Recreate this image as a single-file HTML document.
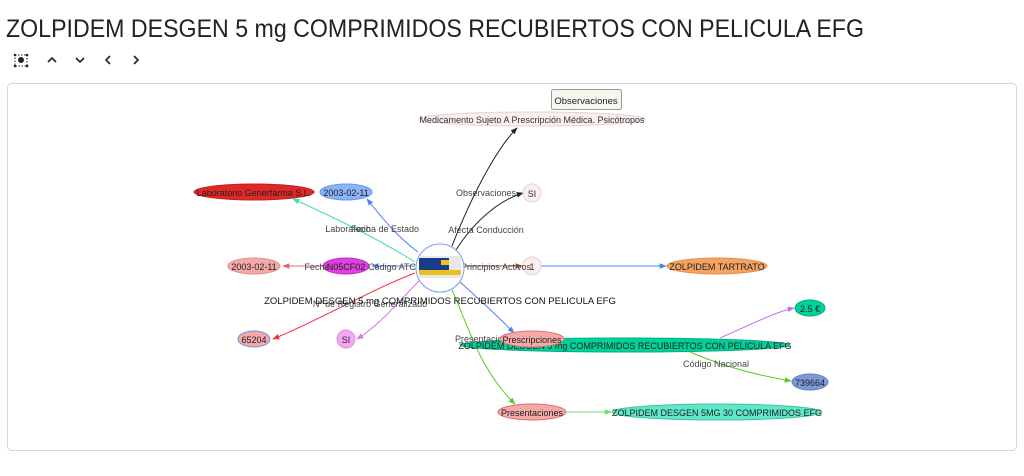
<!DOCTYPE html>
<html><head><meta charset="utf-8"><style>
html,body{margin:0;padding:0;background:#fff;width:1024px;height:476px;overflow:hidden}
svg{display:block;font-family:"Liberation Sans",Arial,sans-serif}
</style></head><body>
<svg width="1024" height="476" viewBox="0 0 1024 476" xmlns="http://www.w3.org/2000/svg">
<defs>
<marker id="a" viewBox="0 0 10 10" refX="9" refY="5" markerWidth="7" markerHeight="7" orient="auto-start-reverse"><path d="M0,1 L10,5 L0,9 z" fill="context-stroke"/></marker>
</defs>
<text x="6" y="37" font-size="25" fill="#222" textLength="858" lengthAdjust="spacingAndGlyphs">ZOLPIDEM DESGEN 5 mg COMPRIMIDOS RECUBIERTOS CON PELICULA EFG</text>
<!-- toolbar -->
<g fill="#222" stroke="#222">
<circle cx="21" cy="60" r="3" stroke="none"/>
<g stroke-width="1" fill="none"><path d="M15,55 L27,55 L27,66 L15,66 Z" stroke-dasharray="1.5 1.5"/></g>
<circle cx="15" cy="55" r="1.3" stroke="none"/><circle cx="27" cy="55" r="1.3" stroke="none"/><circle cx="15" cy="66" r="1.3" stroke="none"/><circle cx="27" cy="66" r="1.3" stroke="none"/>
<g fill="none" stroke-width="1.6"><path d="M48,62 L52,58 L56,62"/><path d="M76,58 L80,62 L84,58"/><path d="M110,56 L106,60 L110,64"/><path d="M134,56 L138,60 L134,64"/></g>
</g>
<rect x="7.5" y="83.5" width="1009" height="367" rx="4" fill="#fff" stroke="#d6d6d6"/>
<!-- edges -->
<g fill="none" stroke-width="1" marker-end="url(#a)">
<path d="M452,246 C470,200 495,150 517,128" stroke="#222"/>
<path d="M456,250 C475,220 500,200 523,193" stroke="#222"/>
<path d="M415,262 C380,240 340,220 293,199" stroke="#3ee0b0"/>
<path d="M418,252 C395,235 380,215 367,199" stroke="#4a84f0"/>
<path d="M369,266 L283,266" stroke="#f06060"/>
<path d="M415,266 L372,266" stroke="#4a84f0"/>
<path d="M415,273 C370,290 320,320 273,339" stroke="#f03040"/>
<path d="M420,280 C400,300 380,325 357,339" stroke="#e070f0"/>
<path d="M465,266 L522,266" stroke="#a0522d"/>
<path d="M541,266 L666,266" stroke="#4a84f0"/>
<path d="M460,282 C480,300 500,318 514,333" stroke="#4a84f0"/>
<path d="M452,290 C470,330 480,370 515,404" stroke="#50d020"/>
<path d="M566,412 L611,412" stroke="#70e070"/>
<path d="M720,338 C750,325 775,312 794,308" stroke="#c070f0"/>
<path d="M690,352 C720,365 755,375 791,381" stroke="#50d020"/>
</g>
<!-- nodes -->
<ellipse cx="532" cy="119" rx="113" ry="7" fill="#fbeeee" stroke="#e8d0d0"/>
<text x="532" y="123" font-size="9" text-anchor="middle" fill="#333">Medicamento Sujeto A Prescripción Médica. Psicótropos</text>
<rect x="551.5" y="89.5" width="70" height="20" rx="2" fill="#f6f6ee" stroke="#999"/>
<text x="586" y="104" font-size="9.5" text-anchor="middle" fill="#222">Observaciones</text>
<circle cx="532" cy="193" r="9" fill="#fbeeee" stroke="#e8d0d0"/>
<text x="532" y="197" font-size="9" text-anchor="middle" fill="#333">SI</text>
<ellipse cx="254" cy="192" rx="60" ry="8" fill="#e02828" stroke="#c02020"/>
<text x="254" y="196" font-size="9" text-anchor="middle" fill="#222">Laboratorio Generfarma S.L.</text>
<ellipse cx="346" cy="192" rx="26" ry="8" fill="#8ab4f8" stroke="#6a94e8"/>
<text x="346" y="196" font-size="9" text-anchor="middle" fill="#222">2003-02-11</text>
<ellipse cx="254" cy="266" rx="26" ry="8" fill="#f4a8a8" stroke="#e09090"/>
<text x="254" y="270" font-size="9" text-anchor="middle" fill="#222">2003-02-11</text>
<ellipse cx="346" cy="266" rx="23" ry="8" fill="#e040e0" stroke="#c030c0"/>
<text x="346" y="270" font-size="9" text-anchor="middle" fill="#222">N05CF02</text>
<circle cx="532" cy="266" r="9" fill="#fbeeee" stroke="#e8d0d0"/>
<text x="532" y="270" font-size="9" text-anchor="middle" fill="#333">1</text>
<ellipse cx="717" cy="266" rx="50" ry="8" fill="#f4a460" stroke="#e09050"/>
<text x="717" y="270" font-size="9" text-anchor="middle" fill="#222">ZOLPIDEM TARTRATO</text>
<ellipse cx="810" cy="308" rx="15" ry="8" fill="#00d09a" stroke="#00b080"/>
<text x="810" y="312" font-size="9" text-anchor="middle" fill="#222">2.5 €</text>
<ellipse cx="254" cy="339" rx="16" ry="8" fill="#f4a8a8" stroke="#6a94e8"/>
<text x="254" y="343" font-size="9" text-anchor="middle" fill="#222">65204</text>
<circle cx="346" cy="339" r="9" fill="#f4a8f4" stroke="#e090e0"/>
<text x="346" y="343" font-size="9" text-anchor="middle" fill="#222">SI</text>
<ellipse cx="625" cy="345" rx="165" ry="7" fill="#00d09a" stroke="#00b080"/>
<text x="625" y="349" font-size="9" text-anchor="middle" fill="#222">ZOLPIDEM DESGEN 5 mg COMPRIMIDOS RECUBIERTOS CON PELICULA  EFG</text>
<text x="455" y="342" font-size="9" fill="#444">Presentaciones</text>
<ellipse cx="532" cy="339" rx="32" ry="8" fill="#f4a8a8" stroke="#e07070"/>
<text x="532" y="343" font-size="9" text-anchor="middle" fill="#222">Prescripciones</text>
<ellipse cx="810" cy="382" rx="18" ry="8" fill="#7b9ad6" stroke="#6080c0"/>
<text x="810" y="386" font-size="9" text-anchor="middle" fill="#222">739664</text>
<ellipse cx="532" cy="412" rx="34" ry="8" fill="#f4a8a8" stroke="#e07070"/>
<text x="532" y="416" font-size="9" text-anchor="middle" fill="#222">Presentaciones</text>
<ellipse cx="717" cy="412" rx="105" ry="8" fill="#5ee8c8" stroke="#40c0a0"/>
<text x="717" y="416" font-size="9" text-anchor="middle" fill="#222">ZOLPIDEM DESGEN 5MG 30 COMPRIMIDOS EFG</text>
<!-- edge labels -->
<g font-size="9" fill="#444" text-anchor="middle">
<text x="486" y="196">Observaciones</text>
<text x="486" y="233">Afecta Conducción</text>
<text x="348" y="232">Laboratorio</text>
<text x="385" y="232">Fecha de Estado</text>
<text x="317" y="270">Fecha</text>
<text x="392" y="270">Código ATC</text>
<text x="496" y="270">Principios Activos</text>
<text x="370" y="307">Nº de Registro Generalizado</text>
<text x="716" y="367">Código Nacional</text>
</g>
<!-- center node -->
<circle cx="440" cy="268" r="24" fill="#fff" stroke="#7a9af0"/>
<rect x="419" y="256" width="42" height="22" fill="#e8e8e8"/>
<rect x="419" y="258" width="30" height="12" fill="#1a3a8a"/>
<rect x="441" y="260" width="8" height="5" fill="#f0c020"/>
<rect x="419" y="270" width="42" height="5" fill="#e8c020"/>
<text x="440" y="304" font-size="9.5" text-anchor="middle" fill="#111">ZOLPIDEM DESGEN 5 mg COMPRIMIDOS RECUBIERTOS CON PELICULA EFG</text>
</svg>
</body></html>
